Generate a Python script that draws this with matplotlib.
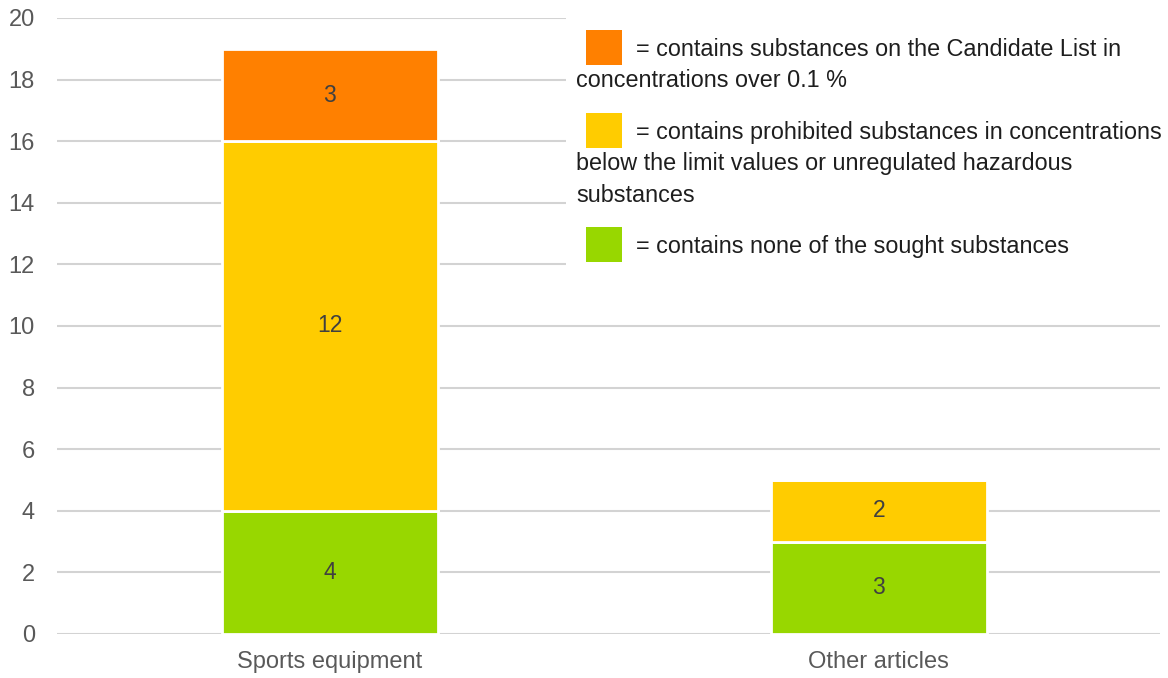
import matplotlib
matplotlib.use("Agg")
import matplotlib.pyplot as plt
from matplotlib.patches import Rectangle

categories = ["Sports equipment", "Other articles"]
none_found = [4, 3]
below_limits = [12, 2]
candidate_list = [3, 0]
y_ticks = [0, 2, 4, 6, 8, 10, 12, 14, 16, 18, 20]

series = [
    (none_found, "#98D700", "= contains none of the sought substances"),
    (below_limits, "#FFCC00", "= contains prohibited substances in concentrations\nbelow the limit values or unregulated hazardous\nsubstances"),
    (candidate_list, "#FF8000", "= contains substances on the Candidate List in\nconcentrations over 0.1 %"),
]

plt.rcParams['font.family'] = ['Liberation Sans', 'DejaVu Sans']

W, H = 1168, 678
fig = plt.figure(figsize=(W / 100, H / 100), dpi=100)
ax = fig.add_axes([57 / W, 1 - 634 / H, (1160 - 57) / W, (634 - 18) / H])

x = list(range(len(categories)))
bottoms = [0] * len(categories)
for vals, color, _ in series:
    bars = ax.bar(x, vals, width=0.393, bottom=bottoms, color=color,
                  edgecolor="white", linewidth=2, zorder=3)
    labels = [str(v) if v else "" for v in vals]
    ax.bar_label(bars, labels=labels, label_type="center", fontsize=16.5,
                 color="#404040", zorder=4)
    bottoms = [b + v for b, v in zip(bottoms, vals)]

ax.set_xlim(-0.497, 1.512)
ax.set_ylim(0, 20)
ax.set_yticks(y_ticks)
ax.set_xticks(x)
ax.set_xticklabels(categories)
ax.tick_params(axis="both", length=0, labelsize=17, labelcolor="#595959")
ax.tick_params(axis="y", pad=16)
ax.tick_params(axis="x", pad=12)
for lab in ax.get_yticklabels():
    lab.set_horizontalalignment("right")
ax.grid(axis="y", color="#D3D3D3", linewidth=1.5, zorder=0)
for s in ax.spines.values():
    s.set_visible(False)

# legend block (white panel covering gridlines)
def fx(px):
    return px / W

def fy(py):
    return 1 - py / H

fig.patches.append(Rectangle((fx(566), fy(292)), fx(1166) - fx(566), fy(0) - fy(292),
                             transform=fig.transFigure, facecolor="white",
                             edgecolor="none", zorder=5))

entries = [
    (series[2][1], series[2][2], 30),
    (series[1][1], series[1][2], 113),
    (series[0][1], series[0][2], 227),
]
for color, text, top in entries:
    fig.patches.append(Rectangle((fx(586), fy(top + 35)), fx(622) - fx(586), fy(top) - fy(top + 35),
                                 transform=fig.transFigure, facecolor=color,
                                 edgecolor="none", zorder=6))
    lines = text.split("\n")
    fig.text(fx(636), fy(top + 19), lines[0], fontsize=16.8, color="#1E1E1E",
             va="center", ha="left", zorder=7)
    for i, ln in enumerate(lines[1:], start=1):
        fig.text(fx(576), fy(top + 19 + 31.5 * i), ln, fontsize=16.8, color="#1E1E1E",
                 va="center", ha="left", zorder=7)

fig.savefig("out.png", dpi=100)
